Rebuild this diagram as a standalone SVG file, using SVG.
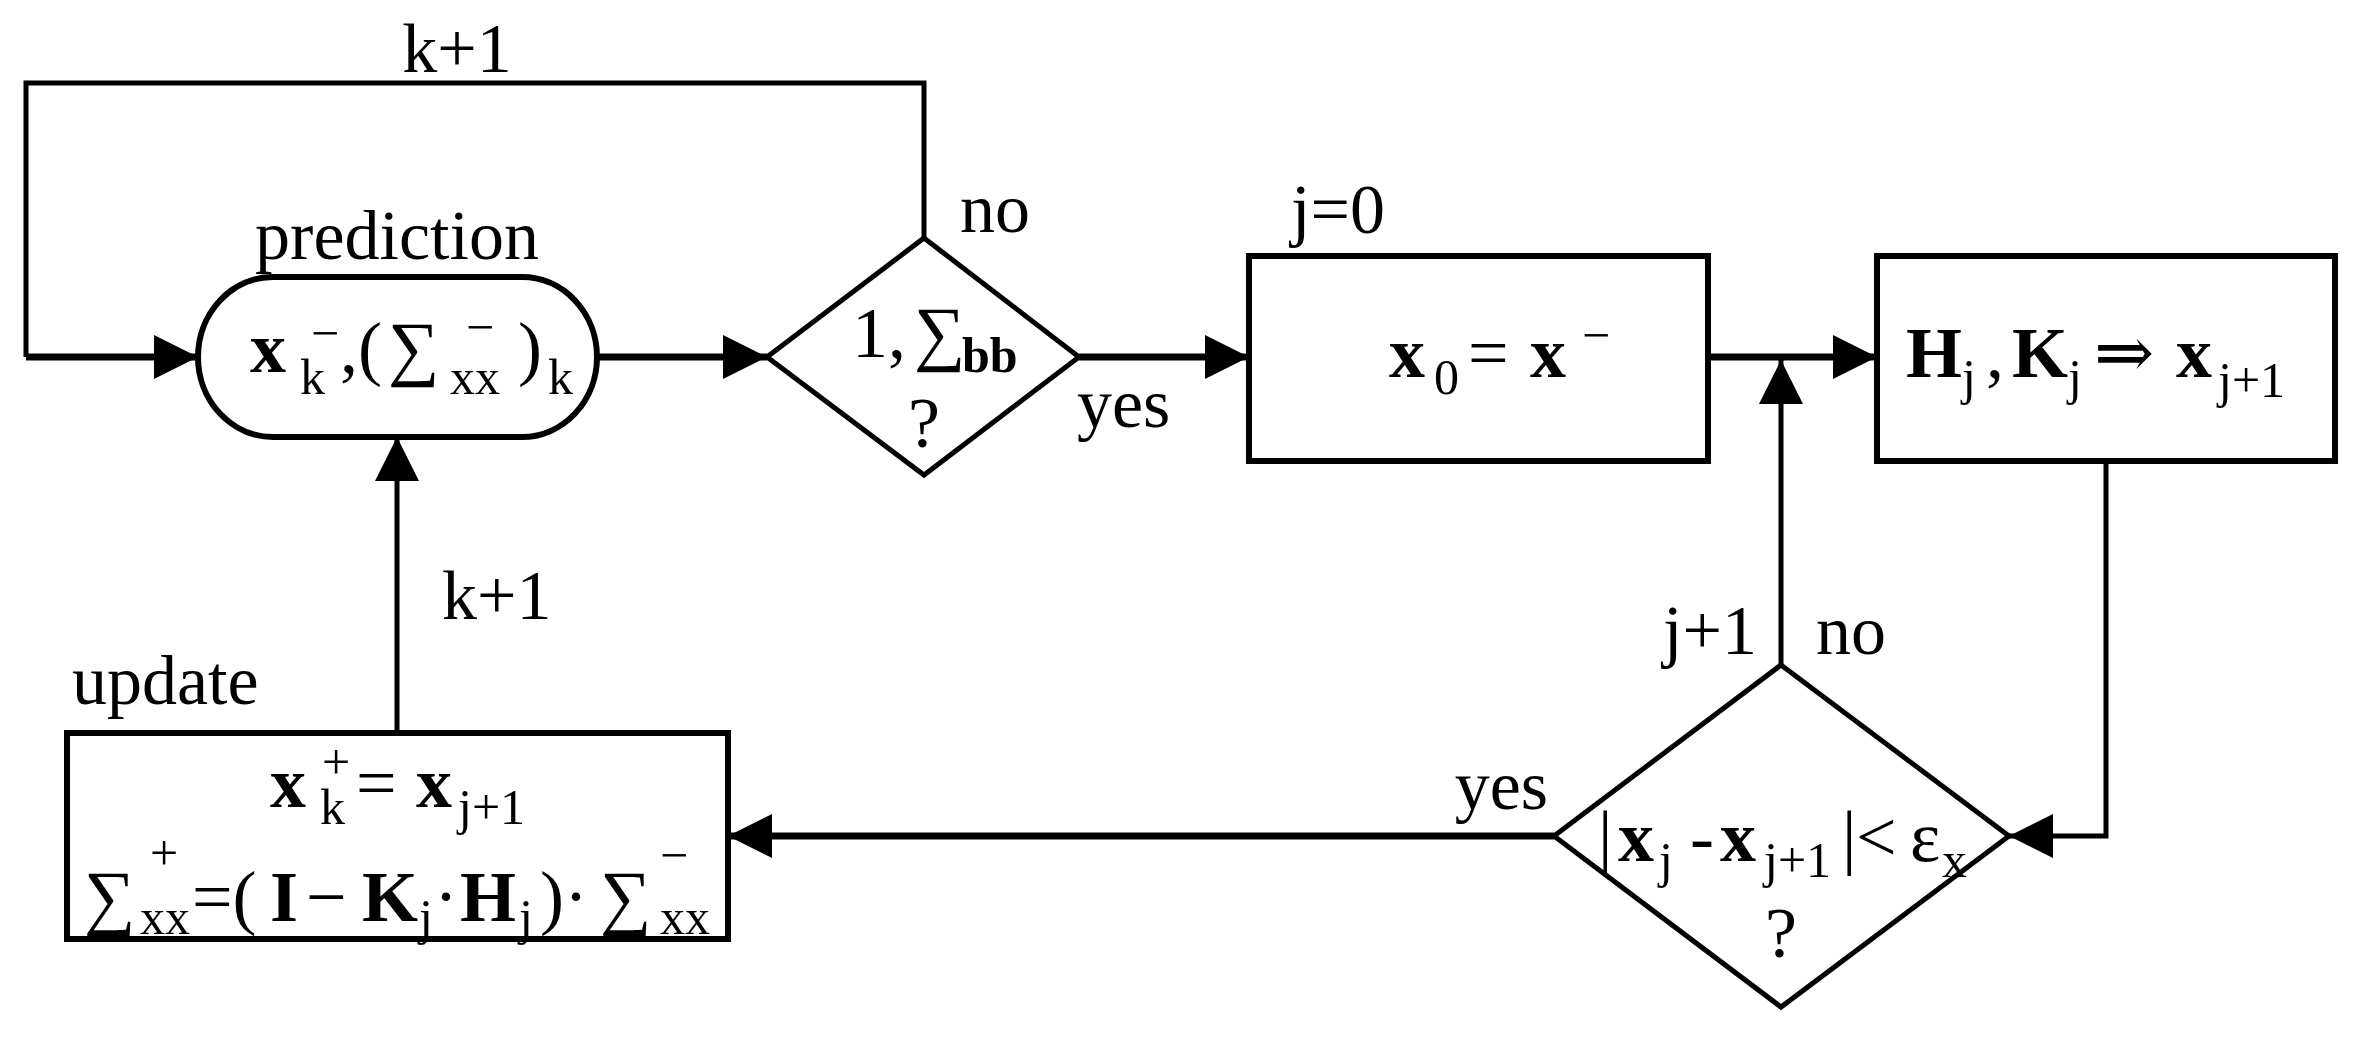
<svg xmlns="http://www.w3.org/2000/svg" width="2370" height="1044" viewBox="0 0 2370 1044">
<style>
text{font-family:"Liberation Serif","DejaVu Serif",serif;fill:#000}
.t{font-size:70px}
.m{font-size:72px}
.s{font-size:50px}
.b{font-weight:bold}
.shape{fill:#fff;stroke:#000;stroke-width:6}
.dia{fill:#fff;stroke:#000;stroke-width:5}
.ln{fill:none;stroke:#000;stroke-width:5}
.lt{fill:none;stroke:#000;stroke-width:7}
</style>
<defs>
<marker id="ah" viewBox="0 0 10 10" refX="10" refY="5" markerWidth="44" markerHeight="44" markerUnits="userSpaceOnUse" orient="auto">
<path d="M0,0 L10,5 L0,10 Z" fill="#000"/>
</marker>
</defs>
<g id="connectors">
<polyline class="ln" points="924,238 924,83 26,83 26,357"/>
<line class="lt" x1="26" y1="357" x2="198" y2="357" marker-end="url(#ah)"/>
<line class="lt" x1="597" y1="357" x2="767" y2="357" marker-end="url(#ah)"/>
<line class="lt" x1="1079" y1="357" x2="1249" y2="357" marker-end="url(#ah)"/>
<line class="lt" x1="1708" y1="357" x2="1877" y2="357" marker-end="url(#ah)"/>
<line class="ln" x1="1781" y1="665" x2="1781" y2="360" marker-end="url(#ah)"/>
<polyline class="ln" points="2106,461 2106,836 2009,836" marker-end="url(#ah)"/>
<line class="lt" x1="1554" y1="836" x2="728" y2="836" marker-end="url(#ah)"/>
<line class="ln" x1="397" y1="733" x2="397" y2="437" marker-end="url(#ah)"/>
<text class="t" x="457" y="72" text-anchor="middle">k+1</text>
<text class="t" x="960" y="232">no</text>
<text class="t" x="1077" y="427">yes</text>
<text class="t" x="1291" y="233">j=0</text>
<text class="t" x="1757" y="654" text-anchor="end">j+1</text>
<text class="t" x="1816" y="654">no</text>
<text class="t" x="1548" y="809" text-anchor="end">yes</text>
<text class="t" x="442" y="619">k+1</text>
</g>
<g id="prediction">
<rect class="shape" x="198" y="277" width="399" height="160" rx="75" ry="80"/>
<text class="t" x="397" y="259" text-anchor="middle">prediction</text>
<text class="m b" x="250" y="372">x</text>
<text class="s" x="300" y="394">k</text>
<text class="s" x="311" y="350">−</text>
<text class="m" x="340" y="372">,(</text>
<text class="m" x="388" y="372">∑</text>
<text class="s" x="450" y="394">xx</text>
<text class="s" x="466" y="344">−</text>
<text class="m" x="518" y="372">)</text>
<text class="s" x="548" y="394">k</text>
</g>
<g id="decision1">
<polygon class="dia" points="924,238 1079,357 924,475 767,357"/>
<text class="m" x="852" y="357">1</text>
<text class="m" x="888" y="357">,</text>
<text class="m" x="914" y="357">∑</text>
<text class="s b" x="962" y="372">bb</text>
<text class="m" x="924" y="447" text-anchor="middle">?</text>
</g>
<g id="init">
<rect class="shape" x="1249" y="256" width="459" height="205"/>
<text class="m b" x="1389" y="377">x</text>
<text class="s" x="1434" y="394">0</text>
<text class="m" x="1468" y="377">=</text>
<text class="m b" x="1530" y="377">x</text>
<text class="s" x="1582" y="352">−</text>
</g>
<g id="iterate">
<rect class="shape" x="1877" y="256" width="458" height="205"/>
<text class="m b" x="1906" y="377">H</text>
<text class="s" x="1962" y="394">j</text>
<text class="m" x="1986" y="377">,</text>
<text class="m b" x="2012" y="377">K</text>
<text class="s" x="2068" y="394">j</text>
<text class="m" x="2094" y="377">⇒</text>
<text class="m b" x="2176" y="377">x</text>
<text class="s" x="2218" y="397">j+1</text>
</g>
<g id="decision2">
<polygon class="dia" points="1781,665 2009,836 1781,1007 1554,836"/>
<text class="m" x="1598" y="861">|</text>
<text class="m b" x="1618" y="861">x</text>
<text class="s" x="1659" y="877">j</text>
<text class="m" x="1690" y="861">-</text>
<text class="m b" x="1720" y="861">x</text>
<text class="s" x="1764" y="877">j+1</text>
<text class="m" x="1842" y="861">|</text>
<text class="m" x="1856" y="861">&lt;</text>
<text class="m" x="1910" y="861">ε</text>
<text class="s" x="1942" y="877">x</text>
<text class="m" x="1781" y="957" text-anchor="middle">?</text>
</g>
<g id="update">
<rect class="shape" x="67" y="733" width="661" height="206"/>
<text class="t" x="72" y="704">update</text>
<text class="m b" x="270" y="807">x</text>
<text class="s" x="320" y="824">k</text>
<text class="s" x="322" y="779">+</text>
<text class="m" x="356" y="807">=</text>
<text class="m b" x="416" y="807">x</text>
<text class="s" x="458" y="824">j+1</text>
<text class="m" x="84" y="921">∑</text>
<text class="s" x="150" y="870">+</text>
<text class="s" x="140" y="934">xx</text>
<text class="m" x="192" y="921">=(</text>
<text class="m b" x="270" y="921">I</text>
<text class="m" x="306" y="921">−</text>
<text class="m b" x="362" y="921">K</text>
<text class="s" x="419" y="934">j</text>
<text class="m" x="434" y="921">·</text>
<text class="m b" x="460" y="921">H</text>
<text class="s" x="519" y="934">j</text>
<text class="m" x="540" y="921">)·</text>
<text class="m" x="600" y="921">∑</text>
<text class="s" x="660" y="872">−</text>
<text class="s" x="660" y="934">xx</text>
</g>
</svg>
